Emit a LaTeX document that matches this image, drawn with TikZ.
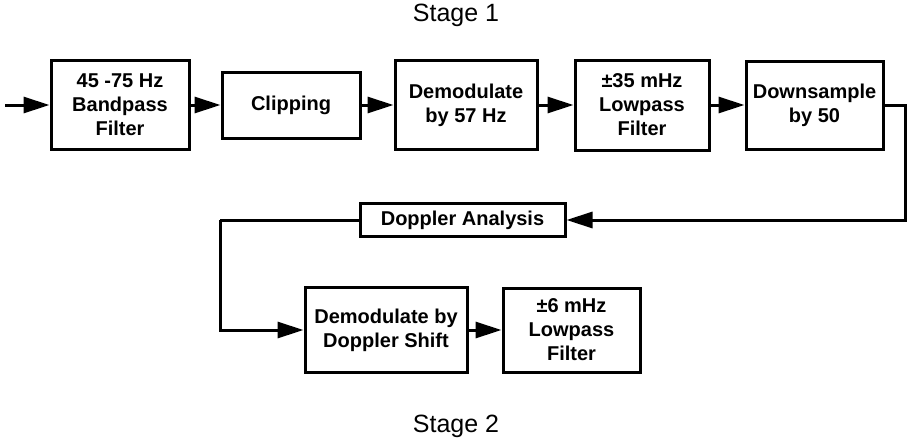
\documentclass[tikz,border=0pt]{standalone}
\usepackage{fontspec}
\setmainfont{Liberation Sans}
\usepackage{tikz}
\usetikzlibrary{arrows.meta}

\begin{document}
\begin{tikzpicture}[x=1pt, y=-1pt,
    block/.style={draw, line width=3pt, align=center, inner sep=0pt,
        font=\fontsize{20}{24}\selectfont\bfseries},
    flow/.style={line width=3pt, -{Triangle[length=26pt, width=16pt]}},
    wire/.style={line width=3pt},
    stagelabel/.style={font=\fontsize{25}{29}\selectfont}]
    \useasboundingbox (0, 0) rectangle (908, 440);

    % Stage 1
    \node[stagelabel] (s1) at (456, 15) {Stage 1};
    \coordinate (in) at (5, 105);
    \node[block, minimum width=138pt, minimum height=89pt] (bp) at (120, 105) {45 -75 Hz\\Bandpass\\Filter};
    \node[block, minimum width=138pt, minimum height=66pt] (clip) at (291, 105) {Clipping};
    \node[block, minimum width=142pt, minimum height=89pt] (dem) at (466, 105) {Demodulate\\by 57 Hz};
    \node[block, minimum width=134pt, minimum height=90pt] (lp) at (642, 105) {±35 mHz\\Lowpass\\Filter};
    \node[block, minimum width=137pt, minimum height=88pt] (ds) at (814.5, 105) {Downsample\\by 50};

    \draw[flow] (in) -- (bp);
    \draw[flow] (bp) -- (clip);
    \draw[flow] (clip) -- (dem);
    \draw[flow] (dem) -- (lp);
    \draw[flow] (lp) -- (ds);

    % Feedback to Doppler analysis
    \node[block, minimum width=205pt, minimum height=33pt] (da) at (462.5, 220) {Doppler Analysis};
    \coordinate (rc) at (905, 105);
    \coordinate (rb) at (905, 220);
    \draw[flow] (ds.east) -- (rc) -- (rb) -- (da.east);

    % Stage 2
    \node[block, minimum width=162pt, minimum height=85pt] (dd) at (386, 330) {Demodulate by\\Doppler Shift};
    \node[block, minimum width=137pt, minimum height=84pt] (lp6) at (571.5, 330) {±6 mHz\\Lowpass\\Filter};
    \coordinate (lt) at (220, 220);
    \coordinate (lb) at (220, 330);
    \draw[wire] (da.west) -- (lt);
    \draw[flow] (lt) -- (lb) -- (dd.west);
    \draw[flow] (dd) -- (lp6);
    \node[stagelabel] (s2) at (456, 426) {Stage 2};
\end{tikzpicture}
\end{document}
